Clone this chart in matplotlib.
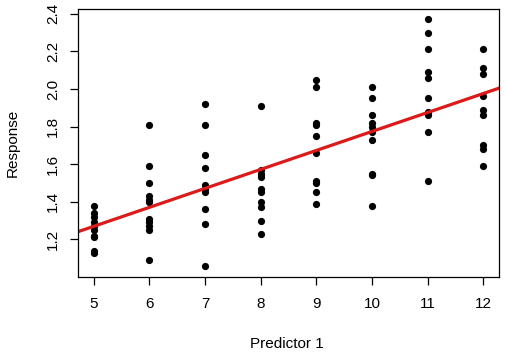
import numpy as np
import matplotlib
matplotlib.use("Agg")
import matplotlib.pyplot as plt

plt.rcParams['font.family'] = ['Liberation Sans', 'DejaVu Sans']

# Response values, grouped by predictor level
resp_5 = [1.38, 1.34, 1.32, 1.29, 1.27, 1.25, 1.22, 1.21, 1.14, 1.13]
resp_6 = [1.81, 1.59, 1.50, 1.43, 1.41, 1.40, 1.31, 1.29, 1.27, 1.25, 1.09]
resp_7 = [1.92, 1.81, 1.65, 1.58, 1.49, 1.47, 1.45, 1.36, 1.28, 1.06]
resp_8 = [1.91, 1.57, 1.55, 1.53, 1.47, 1.45, 1.40, 1.37, 1.30, 1.23]
resp_9 = [2.05, 2.01, 1.82, 1.81, 1.75, 1.66, 1.51, 1.50, 1.45, 1.39]
resp_10 = [2.01, 1.95, 1.86, 1.82, 1.80, 1.77, 1.73, 1.55, 1.54, 1.38]
resp_11 = [2.37, 2.30, 2.21, 2.09, 2.06, 1.95, 1.88, 1.86, 1.77, 1.51]
resp_12 = [2.21, 2.11, 2.08, 1.96, 1.89, 1.86, 1.70, 1.68, 1.59]

levels = [5, 6, 7, 8, 9, 10, 11, 12]
groups = [resp_5, resp_6, resp_7, resp_8, resp_9, resp_10, resp_11, resp_12]

x = np.concatenate([[lv] * len(g) for lv, g in zip(levels, groups)])
y = np.concatenate(groups)

# least squares fit, drawn across the whole panel like abline()
slope, intercept = np.polyfit(x, y, 1)

fig = plt.figure(figsize=(5.06, 3.56), dpi=100)
ax = fig.add_axes([78 / 506, 1 - 276.7 / 356, 421 / 506, 267.4 / 356])

ax.plot(x, y, 'o', color='black', markersize=5.2, markeredgewidth=0)
ax.axline((0, intercept), slope=slope, color='#dc1a1a', lw=2.3)

ax.set_xlim(4.72, 12.28)
ax.set_ylim(1.0013, 2.4237)
ax.set_xticks(levels)
ax.set_yticks([1.2, 1.4, 1.6, 1.8, 2.0, 2.2, 2.4])
ax.set_yticklabels(['1.2', '1.4', '1.6', '1.8', '2.0', '2.2', '2.4'],
                   rotation=90, va='center')

for s in ax.spines.values():
    s.set_linewidth(0.9)
ax.tick_params(axis='both', length=6, width=0.9, labelsize=11, direction='out')
ax.tick_params(axis='x', pad=8.5)
ax.tick_params(axis='y', pad=7)

ax.set_xlabel('Predictor 1', fontsize=11)
ax.set_ylabel('Response', fontsize=11)
ax.xaxis.set_label_coords(0.497, -0.252)
ax.xaxis.label.set_va('center')
ax.yaxis.set_label_coords(-0.154, 0.5)
ax.yaxis.label.set_va('center')

fig.savefig('out.png', dpi=100)
